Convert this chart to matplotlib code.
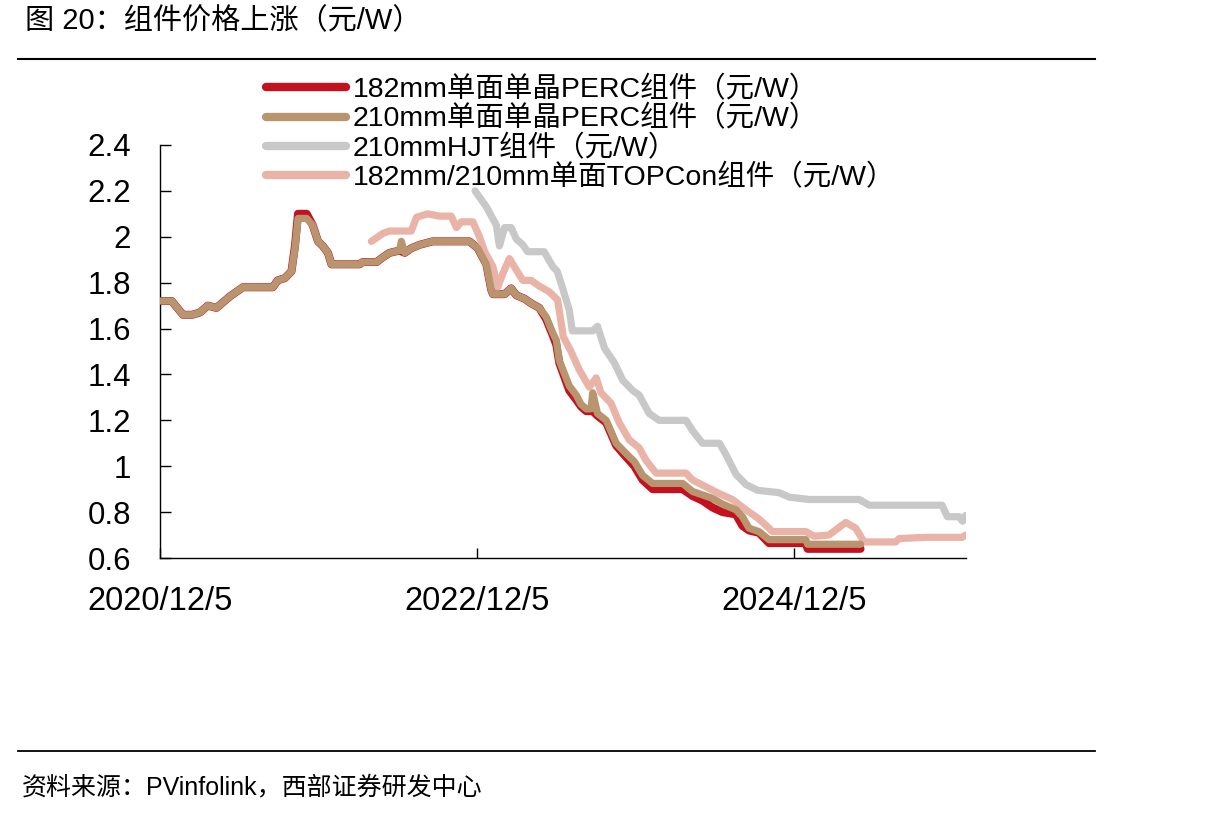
import matplotlib
matplotlib.use("Agg")
import matplotlib.pyplot as plt
import pandas as pd
from matplotlib.lines import Line2D

plt.rcParams["font.family"] = ["Liberation Sans", "Noto Sans CJK SC", "DejaVu Sans"]

# ---- data (元/W) ----
perc182_dates = [
    "2020-12-05", "2021-01-01", "2021-01-27", "2021-02-17", "2021-03-07", "2021-03-25",
    "2021-04-14", "2021-05-15", "2021-06-14", "2021-07-04", "2021-08-22", "2021-09-02",
    "2021-09-19", "2021-10-04", "2021-10-12", "2021-10-19", "2021-11-08", "2021-11-22",
    "2021-12-04", "2021-12-15", "2021-12-27", "2022-01-04", "2022-03-10", "2022-03-17",
    "2022-04-18", "2022-05-02", "2022-05-18", "2022-06-10", "2022-06-22", "2022-07-07",
    "2022-07-26", "2022-08-25", "2022-11-18", "2022-12-07", "2022-12-27", "2023-01-07",
    "2023-01-11", "2023-02-07", "2023-02-22", "2023-03-06", "2023-03-25", "2023-04-09",
    "2023-04-28", "2023-05-14", "2023-05-29", "2023-06-06", "2023-06-13", "2023-07-06",
    "2023-07-22", "2023-08-02", "2023-08-14", "2023-08-29", "2023-09-09", "2023-09-29",
    "2023-10-22", "2023-11-14", "2023-12-03", "2023-12-22", "2024-01-14", "2024-03-23",
    "2024-04-15", "2024-05-08", "2024-05-31", "2024-06-23", "2024-07-24", "2024-08-08",
    "2024-08-23", "2024-09-15", "2024-10-08", "2025-01-01", "2025-01-05", "2025-05-07",
]
perc182_vals = [
    1.72, 1.72, 1.66, 1.66, 1.67, 1.70,
    1.69, 1.74, 1.78, 1.78, 1.78, 1.81,
    1.82, 1.85, 1.96, 2.10, 2.10, 2.05,
    1.98, 1.96, 1.93, 1.88, 1.88, 1.89,
    1.89, 1.91, 1.93, 1.94, 1.93, 1.95,
    1.965, 1.98, 1.98, 1.95, 1.88, 1.77,
    1.75, 1.75, 1.775, 1.745, 1.73, 1.71,
    1.69, 1.64, 1.57, 1.53, 1.45, 1.33,
    1.29, 1.26, 1.24, 1.24, 1.22, 1.19,
    1.09, 1.04, 1.00, 0.94, 0.90, 0.90,
    0.87, 0.85, 0.82, 0.80, 0.79, 0.74,
    0.72, 0.71, 0.665, 0.665, 0.64, 0.64,
]

perc210_dates = [
    "2020-12-05", "2021-01-01", "2021-01-27", "2021-02-17", "2021-03-07", "2021-03-25",
    "2021-04-14", "2021-05-15", "2021-06-14", "2021-07-04", "2021-08-22", "2021-09-02",
    "2021-09-19", "2021-10-04", "2021-10-12", "2021-10-19", "2021-11-08", "2021-11-22",
    "2021-12-04", "2021-12-15", "2021-12-27", "2022-01-04", "2022-03-10", "2022-03-17",
    "2022-04-18", "2022-05-02", "2022-05-18", "2022-06-10", "2022-06-14", "2022-06-22",
    "2022-07-07", "2022-07-26", "2022-08-25", "2022-11-18", "2022-12-07", "2022-12-27",
    "2023-01-07", "2023-01-11", "2023-02-07", "2023-02-22", "2023-03-06", "2023-03-25",
    "2023-04-09", "2023-04-28", "2023-05-14", "2023-05-29", "2023-06-06", "2023-06-13",
    "2023-07-06", "2023-07-22", "2023-08-02", "2023-08-14", "2023-08-25", "2023-08-29",
    "2023-09-09", "2023-09-29", "2023-10-22", "2023-11-14", "2023-12-03", "2023-12-22",
    "2024-01-14", "2024-03-23", "2024-04-15", "2024-05-08", "2024-05-31", "2024-06-23",
    "2024-07-24", "2024-08-08", "2024-08-23", "2024-09-15", "2024-10-08", "2025-01-01",
    "2025-01-05", "2025-05-07",
]
perc210_vals = [
    1.72, 1.72, 1.66, 1.66, 1.67, 1.70,
    1.69, 1.74, 1.78, 1.78, 1.78, 1.81,
    1.82, 1.85, 1.95, 2.08, 2.08, 2.05,
    1.98, 1.96, 1.93, 1.88, 1.88, 1.89,
    1.89, 1.91, 1.93, 1.94, 1.98, 1.93,
    1.95, 1.965, 1.98, 1.98, 1.95, 1.88,
    1.77, 1.75, 1.75, 1.775, 1.745, 1.73,
    1.71, 1.69, 1.65, 1.58, 1.55, 1.46,
    1.35, 1.31, 1.27, 1.25, 1.25, 1.32,
    1.23, 1.20, 1.10, 1.055, 1.02, 0.96,
    0.925, 0.925, 0.89, 0.875, 0.86, 0.835,
    0.81, 0.78, 0.73, 0.715, 0.68, 0.68,
    0.66, 0.66,
]

hjt_dates = [
    "2022-12-01", "2022-12-27", "2023-01-19", "2023-01-26", "2023-02-07", "2023-02-22",
    "2023-03-06", "2023-03-21", "2023-04-01", "2023-05-09", "2023-05-29", "2023-06-08",
    "2023-06-20", "2023-07-06", "2023-07-13", "2023-08-29", "2023-09-09", "2023-09-25",
    "2023-10-18", "2023-11-06", "2023-11-29", "2023-12-14", "2024-01-06", "2024-01-29",
    "2024-03-31", "2024-04-15", "2024-05-08", "2024-06-16", "2024-07-01", "2024-07-24",
    "2024-08-16", "2024-09-12", "2024-10-31", "2024-11-24", "2025-01-09", "2025-05-04",
    "2025-05-27", "2025-11-11", "2025-11-23", "2025-12-20", "2025-12-28", "2026-01-04",
]
hjt_vals = [
    2.20, 2.13, 2.05, 1.96, 2.04, 2.04,
    1.99, 1.965, 1.935, 1.935, 1.87, 1.85,
    1.78, 1.68, 1.59, 1.59, 1.61, 1.515,
    1.45, 1.375, 1.33, 1.31, 1.23, 1.20,
    1.20, 1.155, 1.10, 1.10, 1.05, 0.965,
    0.92, 0.895, 0.885, 0.865, 0.855, 0.855,
    0.83, 0.83, 0.78, 0.78, 0.76, 0.785,
]

topcon_dates = [
    "2022-04-06", "2022-05-03", "2022-05-18", "2022-07-07", "2022-07-19", "2022-08-14",
    "2022-09-10", "2022-10-07", "2022-10-19", "2022-10-30", "2022-11-26", "2022-12-11",
    "2022-12-23", "2023-01-11", "2023-01-22", "2023-02-03", "2023-02-18", "2023-03-06",
    "2023-03-21", "2023-04-09", "2023-04-28", "2023-05-21", "2023-06-09", "2023-06-16",
    "2023-06-22", "2023-07-10", "2023-07-29", "2023-08-21", "2023-09-06", "2023-09-17",
    "2023-10-10", "2023-10-29", "2023-11-21", "2023-12-14", "2023-12-30", "2024-01-22",
    "2024-03-31", "2024-04-15", "2024-05-16", "2024-06-16", "2024-07-16", "2024-08-16",
    "2024-09-15", "2024-10-08", "2024-10-16", "2025-01-01", "2025-01-20", "2025-02-23",
    "2025-04-03", "2025-04-26", "2025-05-15", "2025-07-27", "2025-08-04", "2025-10-04",
    "2025-12-27", "2026-01-04",
]
topcon_vals = [
    1.98, 2.015, 2.025, 2.025, 2.085, 2.10,
    2.09, 2.09, 2.04, 2.065, 2.065, 2.00,
    1.935, 1.87, 1.78, 1.84, 1.905, 1.855,
    1.81, 1.81, 1.785, 1.76, 1.725, 1.64,
    1.565, 1.50, 1.42, 1.345, 1.385, 1.32,
    1.275, 1.19, 1.115, 1.08, 1.025, 0.97,
    0.97, 0.94, 0.91, 0.88, 0.855, 0.81,
    0.77, 0.73, 0.715, 0.715, 0.695, 0.70,
    0.755, 0.73, 0.67, 0.67, 0.685, 0.69,
    0.69, 0.70,
]

labels = [
    "182mm单面单晶PERC组件（元/W）",
    "210mm单面单晶PERC组件（元/W）",
    "210mmHJT组件（元/W）",
    "182mm/210mm单面TOPCon组件（元/W）",
]
colors = ["#C3111F", "#B9956F", "#C8C8C8", "#E9B4A7"]
y_ticks = [0.6, 0.8, 1.0, 1.2, 1.4, 1.6, 1.8, 2.0, 2.2, 2.4]
y_ticklabels = ["0.6", "0.8", "1", "1.2", "1.4", "1.6", "1.8", "2", "2.2", "2.4"]
x_ticks = ["2020-12-05", "2022-12-05", "2024-12-05"]
x_ticklabels = ["2020/12/5", "2022/12/5", "2024/12/5"]

fig = plt.figure(figsize=(12.15, 8.17), dpi=100)
fig.patch.set_facecolor("white")
ax = fig.add_axes([160 / 1215, 1 - 558 / 817, (966 - 160) / 1215, (558 - 145) / 817])

series = [
    (perc182_dates, perc182_vals, 5.8, 2),
    (perc210_dates, perc210_vals, 5.2, 4),
    (hjt_dates, hjt_vals, 5.2, 3),
    (topcon_dates, topcon_vals, 5.2, 3),
]
for (d, v, lw, z), lab, c in zip(series, labels, colors):
    ax.plot(pd.to_datetime(d), v, color=c, lw=lw, zorder=z, label=lab,
            solid_capstyle="round", solid_joinstyle="round")

ax.set_ylim(0.6, 2.4)
ax.set_xlim(pd.Timestamp("2020-12-05"), pd.Timestamp("2026-01-05"))
ax.set_yticks(y_ticks)
ax.set_yticklabels(y_ticklabels)
ax.set_xticks(pd.to_datetime(x_ticks))
ax.set_xticklabels(x_ticklabels)
for s in ("top", "right"):
    ax.spines[s].set_visible(False)
for s in ("left", "bottom"):
    ax.spines[s].set_linewidth(1.0)
ax.tick_params(axis="y", direction="in", length=8, width=1.0, labelsize=22.5, pad=21)
ax.tick_params(axis="x", direction="in", length=7, width=1.0, labelsize=23.5, pad=20)

leg_handles = [Line2D([0], [0], color=c, lw=6, solid_capstyle="round") for c in colors]
fig.legend(leg_handles, labels, loc="upper left", bbox_to_anchor=(266 / 1215, 1 - 76 / 817),
           frameon=False, fontsize=20.5, handlelength=2.8, handletextpad=0.25,
           labelspacing=0.08, borderpad=0, borderaxespad=0)

# title, rules, source
fig.text(25 / 1215, 1 - 21 / 817, "图 20：组件价格上涨（元/W）", fontsize=21, va="center", ha="left")
fig.add_artist(Line2D([18 / 1215, 1095 / 1215], [1 - 59 / 817] * 2, color="black", lw=1.5))
fig.add_artist(Line2D([18 / 1215, 1095 / 1215], [1 - 751 / 817] * 2, color="black", lw=1.3))
fig.text(22 / 1215, 1 - 787 / 817, "资料来源：PVinfolink，西部证券研发中心", fontsize=18, va="center", ha="left")

fig.savefig("out.png", dpi=100, facecolor="white")
